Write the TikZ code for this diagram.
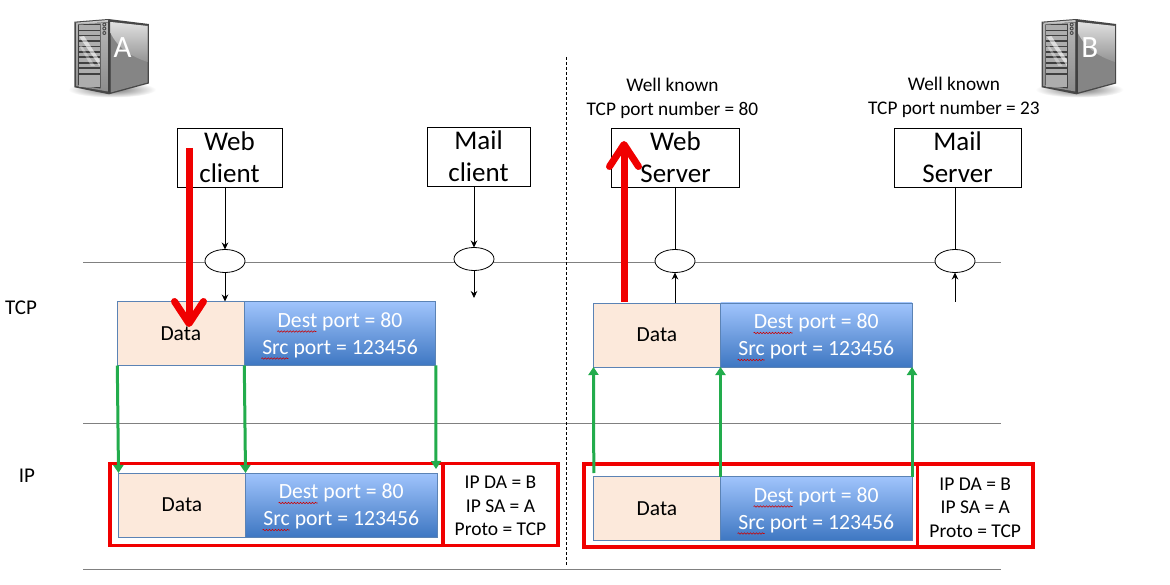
\documentclass[tikz,border=0pt]{standalone}
\usepackage{fontspec}
\setmainfont{Carlito}
\usetikzlibrary{arrows.meta,decorations.pathmorphing,calc,shapes.geometric}
\definecolor{datafill}{HTML}{FCE9DB}
\definecolor{boxedge}{HTML}{5B83B5}
\definecolor{bluetop}{HTML}{A0C4FC}
\definecolor{bluebot}{HTML}{3E77C2}
\definecolor{arrowgreen}{HTML}{22AC4C}
\definecolor{alertred}{HTML}{F00000}
\definecolor{rulegrey}{HTML}{808080}
\newcommand{\pushdown}[1]{\raisebox{-1.8pt}[\height][\depth]{#1}}
\tikzset{
  x=1pt,y=-1pt,
  appbox/.style={draw=black,line width=.8pt,outer sep=0pt,fill=white,align=center,font=\fontsize{27}{32}\selectfont,inner sep=0pt},
  portoval/.style={ellipse,draw=black,line width=.8pt,outer sep=0pt,fill=white,minimum width=40pt,minimum height=23pt,inner sep=0pt},
  datacell/.style={draw=boxedge,line width=.7pt,outer sep=0pt,fill=datafill,minimum width=127pt,minimum height=64pt,inner sep=0pt,anchor=north west,font=\fontsize{21.5}{26}\selectfont},
  portcell/.style={draw=boxedge,line width=.7pt,outer sep=0pt,top color=bluetop,bottom color=bluebot,minimum width=191.5pt,minimum height=64pt,inner sep=0pt,anchor=north west,text=white,align=center,font=\fontsize{21.7}{27}\selectfont},
  redframe/.style={draw=alertred,line width=3.8pt,outer sep=0pt,inner sep=0pt,anchor=north west,align=center,font=\fontsize{19.5}{23.5}\selectfont},
  rulepale/.style={draw=rulegrey,line width=.8pt},
  blackline/.style={draw=black,line width=.8pt},
  blackarrow/.style={draw=black,line width=.8pt,-{Stealth[length=7pt,width=6.5pt]}},
  greenarrow/.style={draw=arrowgreen,line width=3pt,-{Triangle[length=8pt,width=10pt]}},
  redarrow/.style={draw=alertred,line width=7pt,-{Straight Barb[length=22pt,width=29pt,round]}},
  wellknown/.style={align=center,font=\fontsize{19.3}{24}\selectfont},
  layerlabel/.style={font=\fontsize{21}{24}\selectfont},
  squiggle/.style={draw=red!80!black,line width=.6pt,decorate,decoration={snake,amplitude=.7pt,segment length=3pt}},
}
% name, x, y of the Data + port pair
\newcommand{\pduboxes}[4]{%
  \node[datacell] (#1) at (#3,#4) {Data};
  \node[portcell] (#2) at (#3+127,#4) {\pushdown{Dest port = 80}\\\pushdown{Src port = 123456}};
  \draw[squiggle] ($(#2.north west)+(33,30)$) -- ++(39,0);
  \draw[squiggle] ($(#2.north west)+(17,57)$) -- ++(27,0);
}
% server icon, shifted horizontally
\newcommand{\servericon}[2]{%
  \begin{scope}[xshift=#1pt]
    \shade[inner color=black!55,outer color=white] (112,89.5) ellipse (44 and 8);
    \fill[black!72] (74.3,21.7) -- (108.3,19) -- (148.8,24) -- (148.8,83.5) -- (109,94.3) -- (74.3,87.3) -- cycle;
    \fill[black!48] (110.5,22) -- (147.5,26) -- (147.5,82.5) -- (110.5,92.5) -- cycle;
    \shade[top color=black!12,bottom color=black!42] (110.5,22) -- (147.5,26) -- (147.5,62) .. controls (130,56) and (118,48) .. (110.5,33) -- cycle;
    \fill[black!22] (75.5,22.7) -- (108,20) -- (109,22) -- (77,24) -- cycle;
    \shade[top color=black!28,bottom color=black!45] (76,23.5) -- (108,22.5) -- (108,91.5) -- (76,86) -- cycle;
    \fill[black!75] (78,24.5) -- (100.5,23.5) -- (100.5,88.5) -- (78,85) -- cycle;
    \foreach \ya/\yb in {25.5/30,31/35,36.5/40.5,42/46,47.5/51,53/56.5,58.5/62,64/67.5,69.5/73,75/87}
      \fill[black!32] (79,\ya) rectangle (99.5,\yb);
    \fill[white,opacity=.6] (79.5,37) -- (84,36) -- (99.5,60) -- (99.5,66) -- cycle;
    \fill[white,opacity=.35] (79.5,46) -- (82,46) -- (95,66) -- (91,66) -- cycle;
    \foreach \yy in {24.5,28.5,33} {
      \fill[black!70] (104.3,\yy) circle (2);
      \fill[black!25] (104.3,\yy) circle (.9);
    }
    \fill[black!75] (108.2,20) -- (110.2,22) -- (110.4,93) -- (108.2,92) -- cycle;
    \node[text=white,font=\fontsize{31}{34}\selectfont] (#2) at (122.5,47.5) {#2};
  \end{scope}
}
\begin{document}
\begin{tikzpicture}
\useasboundingbox (0,0) rectangle (1170,585);
\fill[white] (0,0) rectangle (1170,585);

\servericon{0}{A}
\servericon{967.4}{B}

% layer rules and divider
\coordinate (r1a) at (83,262); \coordinate (r1b) at (1001,262);
\coordinate (r2a) at (83,423); \coordinate (r2b) at (1001,423);
\coordinate (r3a) at (83,569); \coordinate (r3b) at (1001,569);
\coordinate (da) at (566.5,57); \coordinate (db) at (566.5,565);
\draw[rulepale] (r1a) -- (r1b);
\draw[rulepale] (r2a) -- (r2b);
\draw[rulepale] (r3a) -- (r3b);
\draw[black,line width=.8pt,dash pattern=on 3pt off 2pt] (da) -- (db);

% application boxes
\node[appbox,minimum width=105pt,minimum height=59pt] (wc) at (229.5,157.5) {Web\\client};
\node[appbox,minimum width=103pt,minimum height=59pt] (mc) at (478.5,156.5) {Mail\\client};
\node[appbox,minimum width=128pt,minimum height=59pt] (ws) at (675.5,157.5) {Web\\Server};
\node[appbox,minimum width=127pt,minimum height=59pt] (ms) at (957.5,157.5) {Mail\\Server};

% ports
\node[portoval] (p1) at (225,261) {};
\node[portoval] (p2) at (474,259) {};
\node[portoval] (p3) at (675,261) {};
\node[portoval] (p4) at (955,261) {};

% red frames
\node[redframe,minimum width=333pt,minimum height=82pt] (f1) at (110,463.5) {};
\node[redframe,minimum width=115pt,minimum height=82pt] (h1) at (443,463.5) {\pushdown{IP DA = B}\\\pushdown{IP SA = A}\\\pushdown{Proto = TCP}};
\node[redframe,minimum width=333.5pt,minimum height=82.5pt] (f2) at (584,464.3) {};
\node[redframe,minimum width=115.5pt,minimum height=82.5pt] (h2) at (917.5,464.3) {\pushdown{IP DA = B}\\\pushdown{IP SA = A}\\\pushdown{Proto = TCP}};

% PDU boxes
\pduboxes{td1}{tb1}{117.3}{301.5}
\pduboxes{td2}{tb2}{593.5}{303}
\pduboxes{id1}{ib1}{118.5}{473}
\pduboxes{id2}{ib2}{593.5}{476.5}

% black connectors
\coordinate (m1) at (474,298);
\coordinate (m2) at (955,302);
\draw[blackarrow] (p1 |- wc.south) -- (p1.north);
\draw[blackarrow] (p1.south) -- (p1 |- td1.north);
\draw[blackarrow] (p2 |- mc.south) -- (p2.north);
\draw[blackarrow] (p2.south) -- (m1);
\draw[blackline] (p3 |- ws.south) -- (p3.north);
\draw[blackarrow] (p3 |- td2.north) -- (p3.south);
\draw[blackline] (p4 |- ms.south) -- (p4.north);
\draw[blackarrow] (m2) -- (p4.south);

% green connectors
\draw[greenarrow] (td1.south west) -- (id1.north west);
\draw[greenarrow] (td1.south east) -- (id1.north east);
\draw[greenarrow] (tb1.south east) -- ($(ib1.north east)+(-1,-4)$);
\coordinate (g1) at (593.8,473);
\draw[greenarrow] (g1) -- (td2.south west);
\draw[greenarrow] (id2.north east) -- (td2.south east);
\draw[greenarrow] (ib2.north east) -- (tb2.south east);

% red connectors
\coordinate (ra) at (189,148);
\coordinate (rb) at (189,327);
\coordinate (rc) at (624,302);
\coordinate (rd) at (624,141);
\draw[redarrow] (ra) -- (rb);
\draw[redarrow] (rc) -- (rd);

% labels
\node[layerlabel] (tcp) at (21,308) {TCP};
\node[layerlabel] (ip) at (27,476) {IP};
\node[wellknown] (w1) at (672.5,98) {Well known\\TCP port number = 80};
\node[wellknown] (w2) at (954,97) {Well known\\TCP port number = 23};
\end{tikzpicture}
\end{document}
